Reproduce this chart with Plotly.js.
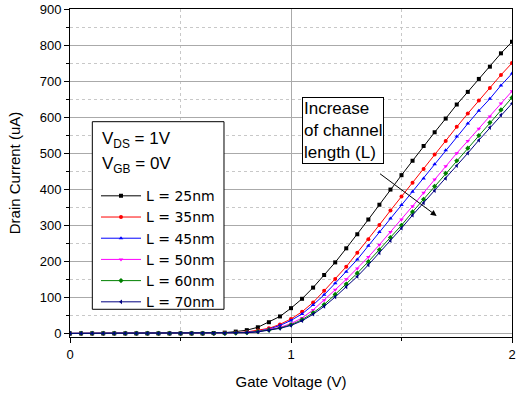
<!DOCTYPE html>
<html>
<head>
<meta charset="utf-8">
<script src="https://cdn.plot.ly/plotly-3.0.1.min.js"></script>
<style>html,body{margin:0;padding:0;background:#fff;}#chart{width:521px;height:400px;}</style>
</head>
<body>
<div id="chart"></div>
<script>
const gateVoltage = [0,0.05,0.1,0.15,0.2,0.25,0.3,0.35,0.4,0.45,0.5,0.55,0.6,0.65,0.7,0.75,0.8,0.85,0.9,0.95,1.0,1.05,1.1,1.15,1.2,1.25,1.3,1.35,1.4,1.45,1.5,1.55,1.6,1.65,1.7,1.75,1.8,1.85,1.9,1.95,2.0];
const seriesNames = ["L = 25nm","L = 35nm","L = 45nm","L = 50nm","L = 60nm","L = 70nm"];
const L25 = [0,0,0,0,0,0,0,0,0,0,0,0,0,1,2,5,9,17,31,47,70,96,127,162,197,236,275,316,357,399,439,479,520,558,596,635,670,706,740,777,809];
const L35 = [0,0,0,0,0,0,0,0,0,0,0,0,0,0,1,2,4,8,14,25,40,60,86,118,151,185,224,261,301,341,380,418,456,496,534,573,610,646,681,717,750];
const L45 = [0,0,0,0,0,0,0,0,0,0,0,0,0,0,1,2,3,6,12,22,36,54,79,107,139,171,205,243,281,319,356,393,430,469,508,546,582,618,651,688,721];
const L50 = [0,0,0,0,0,0,0,0,0,0,0,0,0,0,0,1,2,5,10,17,27,43,65,92,121,150,180,212,246,281,316,353,390,427,464,500,534,568,602,638,672];
const L60 = [0,0,0,0,0,0,0,0,0,0,0,0,0,0,0,1,2,5,9,15,24,38,57,80,108,137,167,199,232,266,300,337,372,408,444,479,514,549,585,620,654];
const L70 = [0,0,0,0,0,0,0,0,0,0,0,0,0,0,0,1,2,4,8,14,22,35,53,75,101,129,158,190,223,257,292,328,362,396,430,465,500,536,571,606,638];
const seriesValues = [L25, L35, L45, L50, L60, L70];
const conditionLabels = ["V<sub>DS</sub> = 1V", "V<sub>GB</sub> = 0V"];
const colors = ["#000000","#ff0000","#0000ff","#ff00ff","#008000","#000080"];
const symbols = ["square","circle","triangle-up","triangle-down","diamond","triangle-left"];

const FONT = '"Liberation Sans", Arial, sans-serif';
const LEGFONT = '"DejaVu Sans", sans-serif';
const traces = seriesNames.map((n, i) => ({
  x: gateVoltage, y: seriesValues[i], name: n, type: 'scatter', mode: 'lines+markers',
  line: {color: colors[i], width: 1},
  marker: {color: colors[i], symbol: symbols[i], size: 4}
}));

const layout = {
  width: 521, height: 400,
  margin: {l: 70, r: 9, t: 9, b: 63},
  paper_bgcolor: '#fff', plot_bgcolor: '#fff',
  font: {family: FONT, size: 13, color: '#000'},
  showlegend: true,
  legend: {
    x: 0.0588, y: 0.478, xanchor: 'left', yanchor: 'top',
    bgcolor: 'rgba(0,0,0,0)', borderwidth: 0,
    font: {family: LEGFONT, size: 14}, itemwidth: 40,
    tracegroupgap: 0
  },
  shapes: [
    {type: 'rect', xref: 'paper', yref: 'paper', x0: 0.0505, x1: 0.3484, y0: 0.0845, y1: 0.6564,
     line: {color: '#000', width: 1}, fillcolor: '#fff', layer: 'above'}
  ],
  xaxis: {
    range: [0, 2], dtick: 1, tick0: 0,
    showline: true, mirror: true, linecolor: '#000', linewidth: 1,
    ticks: 'outside', ticklen: 5, tickcolor: '#000',
    showgrid: true, gridcolor: '#aaaaaa', gridwidth: 1, zeroline: false,
    minor: {dtick: 0.5, ticks: 'outside', ticklen: 3, tickcolor: '#000', showgrid: true, gridcolor: '#c8c8c8', griddash: 'dot'},
    tickfont: {family: FONT, size: 13},
    title: {text: 'Gate Voltage (V)', font: {family: FONT, size: 15}, standoff: 15}
  },
  yaxis: {
    range: [-10, 900], dtick: 100, tick0: 0,
    showline: true, mirror: true, linecolor: '#000', linewidth: 1,
    ticks: 'outside', ticklen: 5, tickcolor: '#000',
    showgrid: true, gridcolor: '#aaaaaa', gridwidth: 1, zeroline: false,
    minor: {dtick: 50, ticks: 'outside', ticklen: 3, tickcolor: '#000', showgrid: true, gridcolor: '#c8c8c8', griddash: 'dot'},
    tickfont: {family: FONT, size: 13},
    title: {text: 'Drain Current (uA)', font: {family: FONT, size: 15}, standoff: 15}
  },
  annotations: [
    {
      xref: 'paper', yref: 'paper', x: 0.0672, y: 0.5997, xanchor: 'left', yanchor: 'middle',
      text: conditionLabels[0], showarrow: false, font: {family: FONT, size: 17, color: '#000'}
    },
    {
      xref: 'paper', yref: 'paper', x: 0.0672, y: 0.5235, xanchor: 'left', yanchor: 'middle',
      text: conditionLabels[1], showarrow: false, font: {family: FONT, size: 17, color: '#000'}
    },
    {
      xref: 'x', yref: 'y', x: 1.048, y: 657, xanchor: 'left', yanchor: 'top',
      text: 'Increase<br>of channel<br>length (L)', align: 'left', showarrow: false,
      font: {family: FONT, size: 17, color: '#000'},
      bgcolor: '#fff', bordercolor: '#000', borderwidth: 1, borderpad: 1
    },
    {
      xref: 'x', yref: 'y', axref: 'x', ayref: 'y',
      x: 1.659, y: 326, ax: 1.396, ay: 446,
      text: '', showarrow: true, arrowhead: 2, arrowsize: 1.2, arrowwidth: 1, arrowcolor: '#000'
    }
  ]
};

Plotly.newPlot('chart', traces, layout, {staticPlot: true, displayModeBar: false});
</script>
</body>
</html>
